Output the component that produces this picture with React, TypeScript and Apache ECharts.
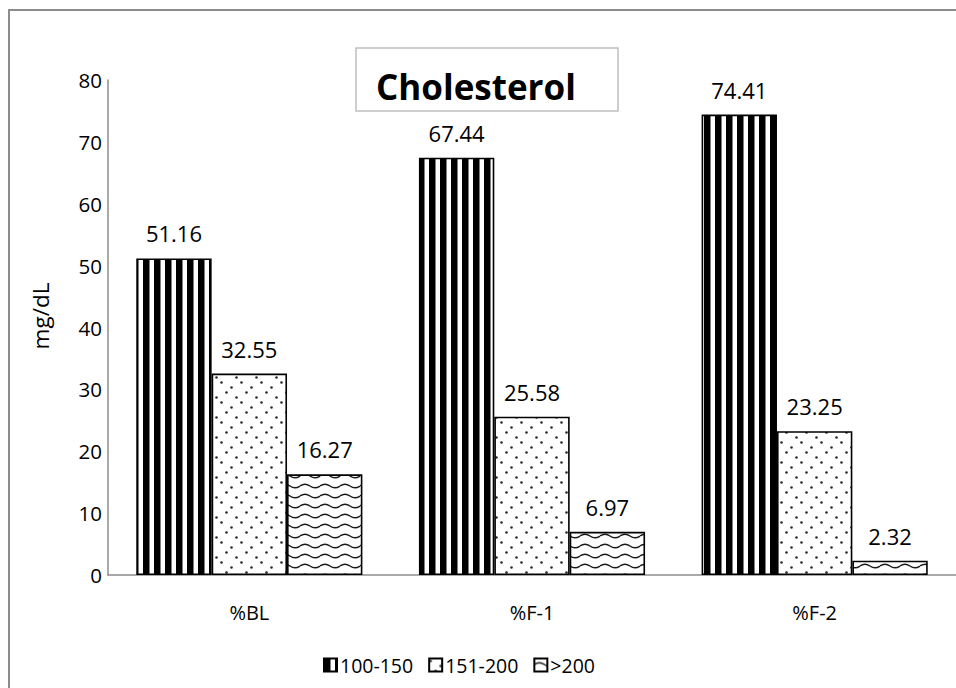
import React, { useEffect, useRef } from "react";
import * as echarts from "echarts";

// Measurement groups on the x axis
const categories = ["%BL", "%F-1", "%F-2"];
// Share of subjects per cholesterol band
const seriesNames = ["100-150", "151-200", ">200"];
const band100to150 = [51.16, 67.44, 74.41];
const band151to200 = [32.55, 25.58, 23.25];
const bandOver200 = [16.27, 6.97, 2.32];
const yTicks = { min: 0, max: 80, interval: 10 };

const FONT = "'Open Sans', 'Noto Sans', sans-serif";

// Tileable SVG fills used as hatch patterns
const svgTile = (w: number, h: number, body: string) =>
  "data:image/svg+xml;charset=utf-8," +
  encodeURIComponent(
    `<svg xmlns="http://www.w3.org/2000/svg" width="${w}" height="${h}" viewBox="0 0 ${w} ${h}"><rect width="${w}" height="${h}" fill="#ffffff"/>${body}</svg>`
  );

const stripePattern = {
  image: svgTile(11, 10, `<rect x="0" y="0" width="6.5" height="10" fill="#000"/>`),
  repeat: "repeat",
  imageWidth: 11,
  imageHeight: 10,
};

const dotPattern = {
  image: svgTile(
    20,
    20,
    [
      [1.5, 2.5],
      [11.5, 7.5],
      [6.5, 12.5],
      [16.5, 17.5],
    ]
      .map(([x, y]) => `<circle cx="${x}" cy="${y}" r="1.3" fill="#2a2a2a"/>`)
      .join("")
  ),
  repeat: "repeat",
  imageWidth: 20,
  imageHeight: 20,
};

const wavePattern = {
  image: svgTile(
    20,
    10,
    `<path d="M0,6 Q5,2.5 10,6 T20,6" fill="none" stroke="#1a1a1a" stroke-width="1.5"/>`
  ),
  repeat: "repeat",
  imageWidth: 20,
  imageHeight: 10,
};

const fills = [stripePattern, dotPattern, wavePattern];
const seriesData = [band100to150, band151to200, bandOver200];

export default function App() {
  const ref = useRef<HTMLDivElement>(null);

  useEffect(() => {
    if (!ref.current) return;
    const chart = echarts.init(ref.current, null, { renderer: "svg" });

    chart.setOption({
      animation: false,
      backgroundColor: "#ffffff",
      textStyle: { fontFamily: FONT },
      grid: { left: 108, top: 80, width: 864, height: 495, containLabel: false },
      legend: {
        data: seriesNames,
        left: 323,
        top: 655,
        padding: 0,
        icon: "rect",
        itemWidth: 13,
        itemHeight: 13,
        itemGap: 15,
        textStyle: { fontFamily: FONT, fontSize: 19.5, color: "#000", padding: [0, 0, 0, -2] },
      },
      xAxis: {
        type: "category",
        data: categories,
        axisLine: { lineStyle: { color: "#8c8c8c", width: 1.5 } },
        axisTick: { show: false },
        axisLabel: { fontFamily: FONT, fontSize: 20, color: "#000", margin: 27 },
      },
      yAxis: {
        type: "value",
        min: yTicks.min,
        max: yTicks.max,
        interval: yTicks.interval,
        axisLine: { show: true, lineStyle: { color: "#8c8c8c", width: 1.5 } },
        axisTick: { show: false },
        splitLine: { show: false },
        axisLabel: { fontFamily: FONT, fontSize: 20.5, color: "#000", margin: 6 },
      },
      series: seriesNames.map((name, i) => ({
        name,
        type: "bar",
        data: seriesData[i],
        barGap: "0%",
        barCategoryGap: "20%",
        itemStyle: { color: fills[i], borderColor: "#000", borderWidth: 1.6 },
        label: {
          show: true,
          position: "top",
          distance: 14,
          fontFamily: FONT,
          fontSize: 22,
          color: "#000",
          formatter: (p: any) => p.value.toFixed(2),
        },
      })),
      graphic: [
        {
          type: "rect",
          shape: { x: 9, y: 10, width: 1000, height: 720 },
          style: { fill: "none", stroke: "#8c8c8c", lineWidth: 2 },
          silent: true,
        },
        {
          type: "rect",
          shape: { x: 356, y: 48, width: 262, height: 63 },
          style: { fill: "#fff", stroke: "#bfbfbf", lineWidth: 1.5 },
          silent: true,
        },
        {
          type: "text",
          x: 376,
          y: 86,
          style: {
            text: "Cholesterol",
            font: `bold 35px ${FONT}`,
            fill: "#000",
            textVerticalAlign: "middle",
          },
          silent: true,
        },
        {
          type: "text",
          x: 40,
          y: 316,
          rotation: Math.PI / 2,
          style: {
            text: "mg/dL",
            font: `22.5px ${FONT}`,
            fill: "#000",
            textAlign: "center",
            textVerticalAlign: "middle",
          },
          silent: true,
        },
      ],
    });

    return () => chart.dispose();
  }, []);

  return (
    <div
      ref={ref}
      style={{ position: "fixed", left: 0, top: 0, width: 956, height: 688, background: "#fff" }}
    />
  );
}
